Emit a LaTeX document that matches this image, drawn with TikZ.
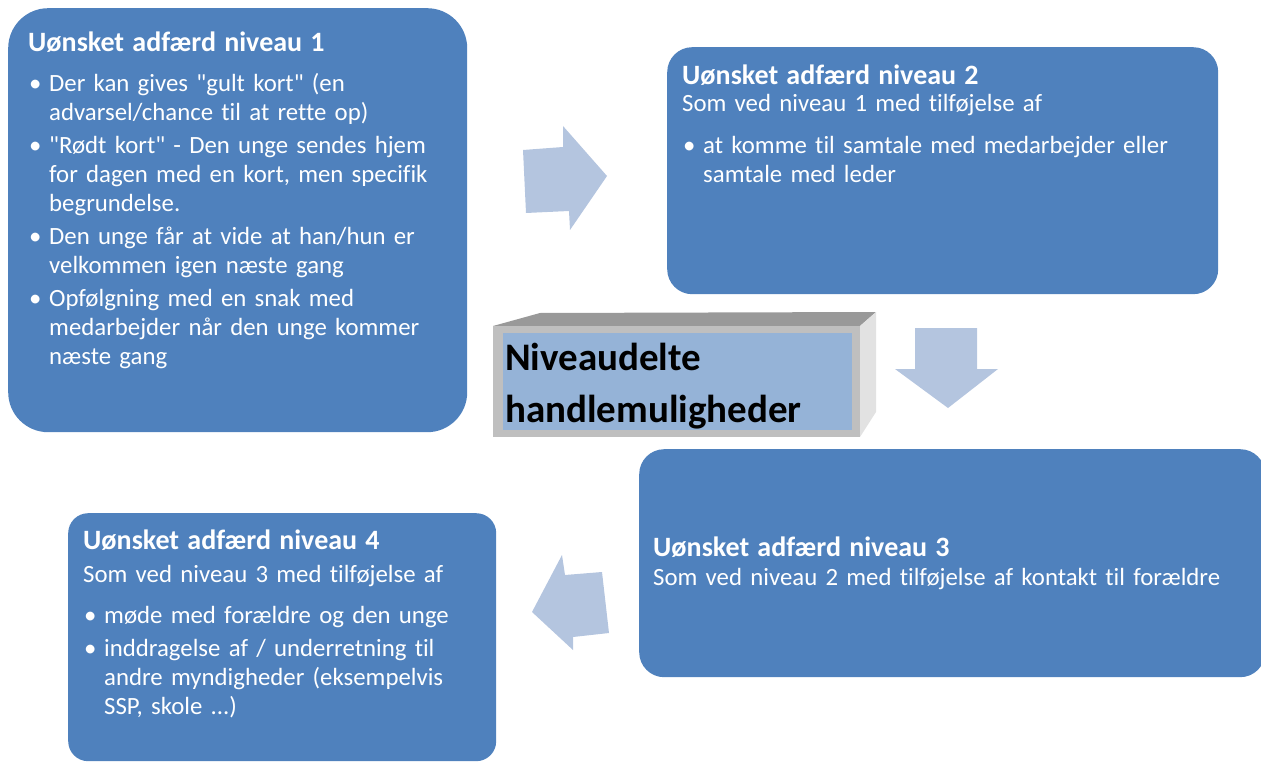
\documentclass[tikz,border=0pt]{standalone}
\usepackage{fontspec}
\setmainfont{Carlito}[Ligatures=NoCommon]
\usepackage{tikz}
\usetikzlibrary{positioning}

\definecolor{boksblaa}{RGB}{79,129,189}
\definecolor{pilblaa}{RGB}{180,197,223}
\definecolor{midtblaa}{RGB}{149,179,215}
\definecolor{graafront}{RGB}{191,191,191}
\definecolor{graatop}{RGB}{153,153,153}
\definecolor{graaside}{RGB}{226,226,226}

% bullet line with hanging lines
\newcommand{\punkt}{\par\vspace{4pt}\hangindent=21pt\hangafter=1\noindent\makebox[21pt][l]{\hspace{1pt}\textbullet}}
% box heading
\newcommand{\overskrift}[1]{{\fontsize{28}{29}\selectfont\bfseries #1\par}}

\begin{document}
\begin{tikzpicture}[x=1pt, y=-1pt,
  boks/.style={rectangle, fill=boksblaa, anchor=north west, inner sep=0pt},
  tekst/.style={text=white, anchor=north west, inner sep=0pt, align=left, font=\fontsize{24.8}{29}\selectfont},
  pil/.style={fill=pilblaa}]

  \useasboundingbox (0,0) rectangle (1261,762);
  \clip (0,0) rectangle (1261,762);

  % Arrows between the levels
  \fill[pil] (523,150) -- (563,147) -- (563,126) -- (607,176) -- (570,230) -- (569,211) -- (526,213) -- cycle;
  \fill[pil] (915,328) -- (977,328) -- (977,369) -- (998,369) -- (948,408) -- (895,369) -- (915,369) -- cycle;
  \fill[pil] (532,612) -- (562,555) -- (565,575) -- (602,572) -- (609,633) -- (573,637) -- (573,650) -- cycle;

  % Level boxes
  \node[boks, minimum width=459pt, minimum height=424pt, rounded corners=40pt] (niveau1) at (8,8) {};
  \node[boks, minimum width=551pt, minimum height=247pt, rounded corners=25pt] (niveau2) at (667,47) {};
  \node[boks, minimum width=626pt, minimum height=228pt, rounded corners=25pt] (niveau3) at (639,449) {};
  \node[boks, minimum width=428pt, minimum height=248pt, rounded corners=20pt] (niveau4) at (68,513) {};

  % Texts in the boxes
  \node[tekst, text width=440pt] (tekst1) at ([shift={(20pt,-23.3pt)}]niveau1.north west) {%
    \overskrift{Uønsket adfærd niveau 1}\vspace{7pt}
    \punkt Der kan gives \textquotedbl gult kort\textquotedbl{} (en\newline advarsel/chance til at rette op)
    \punkt \textquotedbl Rødt kort\textquotedbl{} - Den unge sendes hjem\newline for dagen med en kort, men specifik\newline begrundelse.
    \punkt Den unge får at vide at han/hun er\newline velkommen igen næste gang
    \punkt Opfølgning med en snak med\newline medarbejder når den unge kommer\newline næste gang\par};

  \node[tekst, text width=530pt] (tekst2) at ([shift={(15pt,-17.3pt)}]niveau2.north west) {%
    \overskrift{Uønsket adfærd niveau 2}\vspace{-1.3pt}
    Som ved niveau 1 med tilføjelse af\par\vspace{8.3pt}
    \punkt at komme til samtale med medarbejder eller\newline samtale med leder\par};

  \node[tekst, text width=600pt] (tekst3) at ([shift={(14pt,-87.3pt)}]niveau3.north west) {%
    \overskrift{Uønsket adfærd niveau 3}
    Som ved niveau 2 med tilføjelse af kontakt til forældre\par};

  \node[tekst, text width=410pt] (tekst4) at ([shift={(15pt,-16.3pt)}]niveau4.north west) {%
    \overskrift{Uønsket adfærd niveau 4}\vspace{4pt}
    Som ved niveau 3 med tilføjelse af\par\vspace{8pt}
    \punkt møde med forældre og den unge
    \punkt inddragelse af / underretning til\newline andre myndigheder (eksempelvis\newline SSP, skole ...)\par};

  % Central 3D box
  \fill[graatop] (493,326) -- (540,313) -- (876,312) -- (860,326) -- cycle;
  \fill[graaside] (860,326) -- (876,312) -- (876,412) -- (860,437) -- cycle;
  \fill[graafront] (493,326) rectangle (860,437);
  \node[rectangle, fill=midtblaa, anchor=north west, inner sep=0pt, minimum width=349pt, minimum height=97pt] (midte) at (503,333) {};
  \node[anchor=north west, inner sep=0pt, align=left, text width=345pt, font=\fontsize{39}{52}\selectfont\bfseries] (titel) at ([shift={(2pt,-10pt)}]midte.north west) {Niveaudelte\\handlemuligheder};

\end{tikzpicture}
\end{document}
